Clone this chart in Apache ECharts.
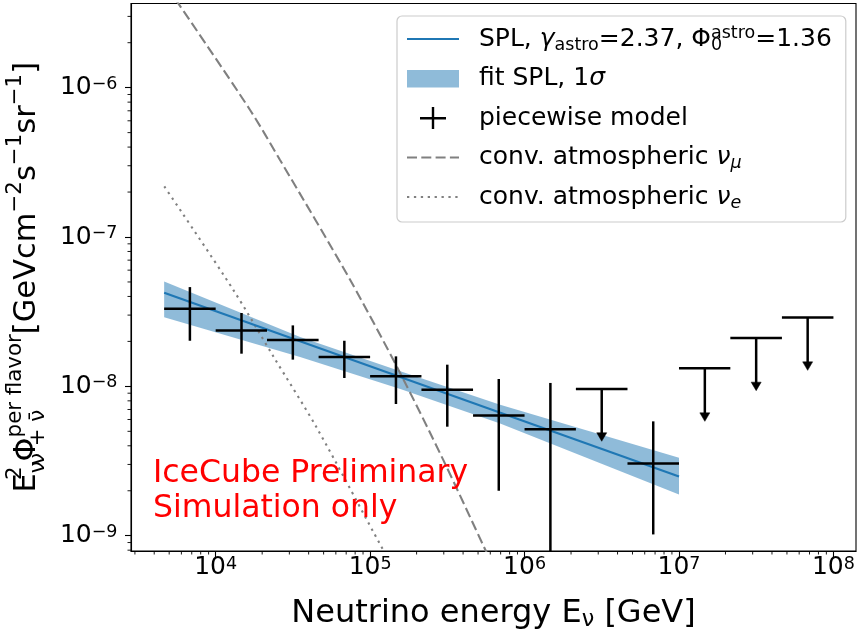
<!DOCTYPE html>
<html><head><meta charset="utf-8">
<script src="https://cdn.jsdelivr.net/npm/echarts@6/dist/echarts.min.js"></script>
<style>html,body{margin:0;padding:0;background:#fff}#c{width:860px;height:630px}</style>
</head><body><div id="c"></div>
<script>
// ---------- data ----------
const binLow    = [4.64e3, 1.0e4, 2.15e4, 4.64e4, 1.0e5, 2.15e5, 4.64e5, 1.0e6, 2.15e6, 4.64e6, 1.0e7, 2.15e7, 4.64e7];
const binHigh   = [1.0e4, 2.15e4, 4.64e4, 1.0e5, 2.15e5, 4.64e5, 1.0e6, 2.15e6, 4.64e6, 1.0e7, 2.15e7, 4.64e7, 1.0e8];
const binCenter = [6.81e3, 1.47e4, 3.16e4, 6.81e4, 1.47e5, 3.16e5, 6.81e5, 1.47e6, 3.16e6, 6.81e6, 1.47e7, 3.16e7, 6.81e7];
const fluxValue = [3.31e-8, 2.37e-8, 2.04e-8, 1.57e-8, 1.17e-8, 9.5e-9, 6.37e-9, 5.16e-9, 9.61e-9, 3.05e-9, 1.32e-8, 2.11e-8, 2.89e-8];
const fluxLow   = [2.02e-8, 1.655e-8, 1.51e-8, 1.138e-8, 7.62e-9, 5.37e-9, 2.0e-9, 5.0e-10, 4.29e-9, 1.02e-9, 5.83e-9, 9.36e-9, 1.28e-8];
const fluxHigh  = [4.62e-8, 3.10e-8, 2.56e-8, 2.02e-8, 1.588e-8, 1.397e-8, 1.12e-8, 1.054e-8, null, 5.83e-9, null, null, null];
const isUpperLimit = [false, false, false, false, false, false, false, false, true, false, true, true, true];

const splEnergy = [4.64e3, 1.0e7];
const splFlux   = [4.24e-8, 2.49e-9];

const bandEnergy = [4.64e3, 3.52e4, 1.57e5, 6.95e5, 1.0e7];
const bandHigh   = [5.04e-8, 2.14e-8, 1.26e-8, 7.54e-9, 3.33e-9];
const bandLow    = [2.90e-8, 1.573e-8, 9.61e-9, 5.63e-9, 1.887e-9];

const numuEnergy = [5.50e3, 1.67e4, 2.61e4, 7.42e4, 1.56e5, 2.97e5, 5.56e5, 7.0e5];
const numuFlux   = [3.9e-6, 7.09e-7, 3.28e-7, 5.17e-8, 1.235e-8, 3.23e-9, 8.09e-10, 4.9e-10];

const nueEnergy = [4.65e3, 1.30e4, 2.36e4, 4.52e4, 1.21e5, 2.0e5];
const nueFlux   = [2.18e-7, 4.43e-8, 1.59e-8, 5.27e-9, 8.09e-10, 3.2e-10];

const xMajorTicks = [1e4, 1e5, 1e6, 1e7, 1e8];
const xMinorTicks = [3e3,4e3,5e3,6e3,7e3,8e3,9e3, 2e4,3e4,4e4,5e4,6e4,7e4,8e4,9e4, 2e5,3e5,4e5,5e5,6e5,7e5,8e5,9e5,
                     2e6,3e6,4e6,5e6,6e6,7e6,8e6,9e6, 2e7,3e7,4e7,5e7,6e7,7e7,8e7,9e7];
const yMajorTicks = [1e-9, 1e-8, 1e-7, 1e-6];
const yMinorTicks = [8e-10,9e-10, 2e-9,3e-9,4e-9,5e-9,6e-9,7e-9,8e-9,9e-9, 2e-8,3e-8,4e-8,5e-8,6e-8,7e-8,8e-8,9e-8,
                     2e-7,3e-7,4e-7,5e-7,6e-7,7e-7,8e-7,9e-7, 2e-6,3e-6];
const xRange = [2830, 1.40e8];
const yRange = [7.9e-10, 3.66e-6];

// ---------- chart ----------
const FONT = 'DejaVu Sans';
const chart = echarts.init(document.getElementById('c'), null, {renderer: 'canvas'});

function powLabel(v) {
  const n = Math.round(Math.log10(v));
  const s = n < 0 ? '\u2212' + (-n) : '' + n;
  return '{b|10}{s|' + s + '}';
}
const tickRich = {
  b: {fontFamily: FONT, fontSize: 25, color: '#000', lineHeight: 25, padding: [8, 0, 0, 0], verticalAlign: 'bottom'},
  s: {fontFamily: FONT, fontSize: 17.5, color: '#000', lineHeight: 22, verticalAlign: 'top'}
};
const mathRich = function (fs) {
  const sm = fs * 0.7;
  return {
    sub: {fontFamily: FONT, fontSize: sm, lineHeight: sm * 0.9, verticalAlign: 'bottom', color: '#000'},
    subit: {fontFamily: FONT, fontSize: sm, fontStyle: 'italic', lineHeight: sm * 0.9, verticalAlign: 'bottom', color: '#000'},
    sub0: {fontFamily: FONT, fontSize: sm, lineHeight: sm * 0.9, verticalAlign: 'bottom', width: 0, color: '#000'},
    sup: {fontFamily: FONT, fontSize: sm, lineHeight: sm * 0.9, verticalAlign: 'top', color: '#000'},
    sup0: {fontFamily: FONT, fontSize: sm, lineHeight: sm * 0.9, verticalAlign: 'top', width: 0, color: '#000'},
    it: {fontFamily: FONT, fontSize: fs, fontStyle: 'italic', color: '#000'}
  };
};

const legendText = {
  spl: 'SPL, {it|\u03b3}{sub|astro}=2.37, \u03a6{sub0|0}{sup|astro}=1.36',
  band: 'fit SPL, 1{it|\u03c3}',
  piecewise: 'piecewise model',
  numu: 'conv. atmospheric {it|\u03bd}{subit|\u03bc}',
  nue: 'conv. atmospheric {it|\u03bd}{subit|e}'
};

function renderBand(params, api) {
  const pts = [];
  for (let k = 0; k < bandEnergy.length; k++) pts.push(api.coord([bandEnergy[k], bandHigh[k]]));
  for (let k = bandEnergy.length - 1; k >= 0; k--) pts.push(api.coord([bandEnergy[k], bandLow[k]]));
  return {type: 'polygon', shape: {points: pts}, style: {fill: 'rgba(31,119,180,0.5)'}};
}

function renderErr(params, api) {
  const i = params.dataIndex;
  const cs = params.coordSys;
  const bottom = cs.y + cs.height;
  const c = api.coord([binCenter[i], fluxValue[i]]);
  const l = api.coord([binLow[i], fluxValue[i]]);
  const r = api.coord([binHigh[i], fluxValue[i]]);
  const lo = api.coord([binCenter[i], fluxLow[i]]);
  const st = {stroke: '#000', lineWidth: 2.5, fill: null};
  const children = [{type: 'line', shape: {x1: l[0], y1: l[1], x2: r[0], y2: r[1]}, style: st}];
  if (isUpperLimit[i]) {
    children.push({type: 'line', shape: {x1: c[0], y1: c[1], x2: c[0], y2: lo[1] - 6}, style: st});
    children.push({type: 'polygon', shape: {points: [[lo[0] - 5, lo[1] - 8.5], [lo[0] + 5, lo[1] - 8.5], [lo[0], lo[1]]]},
                   style: {fill: '#000', stroke: '#000', lineWidth: 0.5}});
  } else {
    const hi = api.coord([binCenter[i], fluxHigh[i]]);
    children.push({type: 'line', shape: {x1: c[0], y1: Math.min(lo[1], bottom), x2: c[0], y2: hi[1]}, style: st});
  }
  return {type: 'group', children: children};
}

// minor log ticks (2..9 x 10^n), placed through the axes' own scales
function renderMinorTicks(params, api) {
  const cs = params.coordSys;
  const left = cs.x, bottom = cs.y + cs.height;
  const st = {stroke: '#000', lineWidth: 0.9};
  const children = [];
  xMinorTicks.forEach(function (v) {
    const p = api.coord([v, yRange[0]]);
    children.push({type: 'line', shape: {x1: p[0], y1: bottom, x2: p[0], y2: bottom + 3.5}, style: st});
  });
  yMinorTicks.forEach(function (v) {
    const p = api.coord([xRange[0], v]);
    children.push({type: 'line', shape: {x1: left - 3.5, y1: p[1], x2: left, y2: p[1]}, style: st});
  });
  return {type: 'group', children: children};
}

const option = {
  animation: false,
  backgroundColor: '#fff',
  grid: {left: 131, top: 3.5, right: 4, bottom: 79, containLabel: false, outerBoundsMode: 'none',
         show: true, borderColor: '#000', borderWidth: 1.1, backgroundColor: 'transparent'},
  xAxis: {
    type: 'log', logBase: 10, min: xRange[0], max: xRange[1], position: 'bottom',
    axisLine: {show: true, lineStyle: {color: '#000', width: 1.1}},
    axisTick: {show: true, inside: false, length: 6, customValues: xMajorTicks, lineStyle: {color: '#000', width: 1.1}},
    axisLabel: {show: true, customValues: xMajorTicks, formatter: powLabel, rich: tickRich, margin: 4},
    splitLine: {show: false}, minorTick: {show: false},
    name: 'Neutrino energy E{sub|\u03bd} [GeV]', nameLocation: 'middle', nameGap: 46,
    nameTextStyle: {fontFamily: FONT, fontSize: 32, color: '#000', lineHeight: 34, rich: mathRich(32)}
  },
  yAxis: {
    type: 'log', logBase: 10, min: yRange[0], max: yRange[1], position: 'left',
    axisLine: {show: true, lineStyle: {color: '#000', width: 1.1}},
    axisTick: {show: true, inside: false, length: 6, customValues: yMajorTicks, lineStyle: {color: '#000', width: 1.1}},
    axisLabel: {show: true, customValues: yMajorTicks, formatter: powLabel, rich: tickRich, margin: 13.5},
    splitLine: {show: false}, minorTick: {show: false},
    name: 'E{sup0|2}{sub|\u03bd}\u03a6{sub0|\u03bd + \u03bd\u0304}{sup|per flavor}[GeVcm{sup|\u22122}s{sup|\u22121}sr{sup|\u22121}]',
    nameLocation: 'middle', nameGap: 52,
    nameTextStyle: {fontFamily: FONT, fontSize: 30.5, color: '#000', lineHeight: 44, rich: mathRich(30.5)}
  },
  legend: {
    orient: 'vertical', left: 397, top: 16,
    padding: [8, 14, 10, 9], itemGap: 9.5, itemWidth: 52, itemHeight: 22,
    backgroundColor: 'rgba(255,255,255,0.8)', borderColor: '#cccccc', borderWidth: 1.2, borderRadius: 5,
    selectedMode: false,
    textStyle: {fontFamily: FONT, fontSize: 25, color: '#000', lineHeight: 30, padding: [0, 0, 0, 15], rich: mathRich(25)},
    formatter: function (name) { return legendText[name]; },
    data: [
      {name: 'spl', itemStyle: {opacity: 0}},
      {name: 'band', icon: 'path://M0,0 M52,22 M0,2.5 L52,2.5 L52,20 L0,20 Z', itemStyle: {color: 'rgba(31,119,180,0.5)'}},
      {name: 'piecewise', icon: 'path://M0,0 M52,22 M13,10 L39,10 L39,12.4 L13,12.4 Z M24.8,0 L27.2,0 L27.2,22 L24.8,22 Z', itemStyle: {color: '#000'}},
      {name: 'numu', itemStyle: {opacity: 0}},
      {name: 'nue', itemStyle: {opacity: 0}}
    ]
  },
  series: [
    {
      name: 'band', type: 'custom', z: 1, silent: true,
      renderItem: renderBand, data: [[bandEnergy[0], bandHigh[0]]],
      itemStyle: {color: 'rgba(31,119,180,0.5)'}
    },
    {
      name: 'numu', type: 'line', z: 2, silent: true,
      data: numuEnergy.map((e, i) => [e, numuFlux[i]]), symbol: 'none', smooth: 0.3,
      lineStyle: {color: '#808080', width: 2.1, type: [10, 4.3]}, itemStyle: {color: '#808080'}, clip: true
    },
    {
      name: 'nue', type: 'line', z: 2, silent: true,
      data: nueEnergy.map((e, i) => [e, nueFlux[i]]), symbol: 'none', smooth: 0.3,
      lineStyle: {color: '#808080', width: 2.1, type: [2.3, 4.6]}, itemStyle: {color: '#808080'}, clip: true
    },
    {
      name: 'spl', type: 'line', z: 3, silent: true,
      data: splEnergy.map((e, i) => [e, splFlux[i]]), symbol: 'none',
      lineStyle: {color: '#1f77b4', width: 2.2}, itemStyle: {color: '#1f77b4'}
    },
    {
      name: 'piecewise', type: 'custom', z: 4, silent: true,
      renderItem: renderErr, data: binCenter.map((e, i) => [e, fluxValue[i]]),
      itemStyle: {color: '#000'}
    },
    {
      name: 'minorTicks', type: 'custom', z: 5, silent: true,
      renderItem: renderMinorTicks, data: [[1e5, 1e-8]]
    }
  ],
  graphic: [
    {
      type: 'text', left: 153, top: 456, z: 10, silent: true,
      style: {text: 'IceCube Preliminary\nSimulation only', fill: '#ff0000', font: '31.5px "DejaVu Sans"', lineHeight: 35}
    }
  ]
};
chart.setOption(option);
</script>
</body></html>
